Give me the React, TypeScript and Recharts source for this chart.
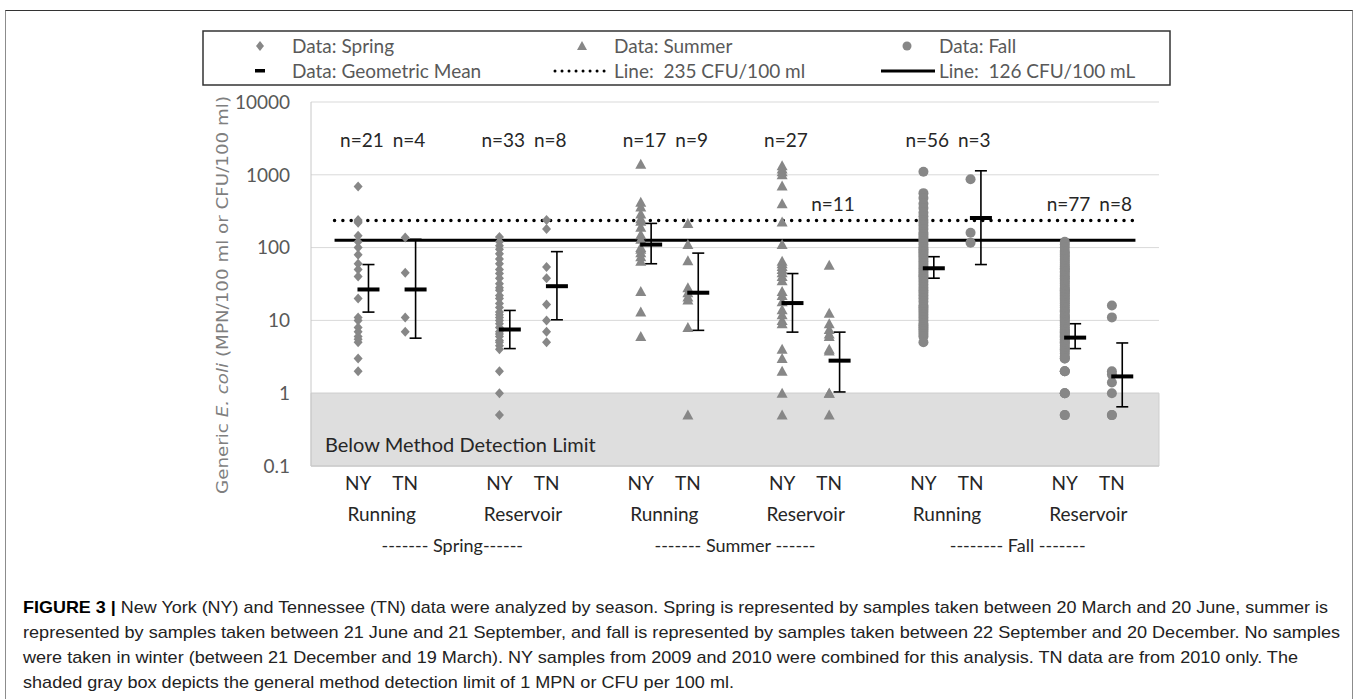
import React from 'react'
import { ScatterChart, Scatter, XAxis, YAxis, CartesianGrid, ReferenceArea, ReferenceLine, ErrorBar } from 'recharts'

const FONT = 'Lato, "Open Sans", sans-serif'
const POINT = '#878787'

// numeric x positions: NY/TN pairs, a blank slot between site groups
const columnX = [1, 2, 4, 5, 7, 8, 10, 11, 13, 14, 16, 17]
const columnLabels = ['NY', 'TN', 'NY', 'TN', 'NY', 'TN', 'NY', 'TN', 'NY', 'TN', 'NY', 'TN']
const siteTicks = [1.5, 4.5, 7.5, 10.5, 13.5, 16.5]
const siteLabels = ['Running', 'Reservoir', 'Running', 'Reservoir', 'Running', 'Reservoir']
const seasonTicks = [3, 9, 15]
const seasonLabels = ['------- Spring------', '------- Summer ------', '-------- Fall -------']
const yTicks = [0.1, 1, 10, 100, 1000, 10000]

// E. coli counts (MPN or CFU / 100 ml)
const springNYRunning = [690, 240, 230, 220, 146, 120, 100, 80, 60, 50, 40, 20, 11, 10, 8, 7, 6, 5.5, 5, 3, 2]
const springTNRunning = [138, 45, 11, 7]
const springNYReservoir = [140, 120, 106, 95, 82, 70, 60, 50, 44, 38, 32, 28, 26, 22, 20, 17, 15, 13, 12, 11, 10, 9, 8, 7, 6.5, 6, 5.3, 5, 4.5, 4, 2, 1, 0.5]
const springTNReservoir = [240, 180, 54, 38, 16.5, 10, 7, 5]
const summerNYRunning = [1400, 420, 360, 290, 250, 230, 190, 150, 130, 100, 95, 85, 75, 65, 25, 13, 6]
const summerTNRunning = [215, 110, 66, 28, 24, 21, 19, 8, 0.5]
const summerNYReservoir = [1330, 1200, 1100, 1000, 700, 400, 225, 110, 65, 60, 55, 50, 45, 40, 35, 25, 22, 18, 14, 12, 10, 9, 4, 3, 2, 1, 0.5]
const summerTNReservoir = [57, 12.5, 9, 7.5, 6.5, 6, 4, 3.8, 1, 1, 0.5]
const fallNYRunning = [1100, 560, 480, 400, 350, 300, 270, 240, 220, 200, 180, 160, 150, 140, 130, 120, 110, 100, 95, 90, 85, 80, 75, 70, 65, 60, 56, 52, 48, 45, 42, 40, 37, 34, 31, 28, 26, 24, 22, 20, 18, 16, 15, 14, 13, 12, 11, 10, 9, 8.5, 8, 7.5, 7, 6.5, 6, 5]
const fallTNRunning = [870, 160, 117]
const fallNYReservoir = [120, 110, 100, 90, 85, 80, 75, 70, 66, 62, 58, 55, 52, 50, 47, 45, 42, 40, 38, 36, 34, 32, 30, 28, 27, 26, 25, 24, 23, 22, 21, 20, 19, 18, 17, 16, 15, 14, 13.5, 13, 12, 11.5, 11, 10.5, 10, 9.5, 9, 8.5, 8, 7.5, 7.2, 7, 6.8, 6.5, 6.2, 6, 5.8, 5.5, 5.2, 5, 4.8, 4.5, 4.2, 4, 3.8, 3.5, 3.2, 3, 3, 2, 2, 2, 1, 1, 1, 0.5, 0.5]
const fallTNReservoir = [16, 11, 2, 1.8, 1.4, 1, 0.5, 0.5]

// geometric means with error bar ends, per column
const meanValues = [26.6, 26.6, 7.5, 29.5, 110, 24, 17.3, 2.8, 52, 255, 5.8, 1.7]
const meanLow = [13, 5.7, 4.1, 10.2, 60, 7.3, 6.9, 1.04, 38, 58.5, 4.1, 0.65]
const meanHigh = [58.5, 130, 13.7, 88, 215, 84, 44, 6.9, 75, 1135, 9, 4.9]

const nCounts = [21, 4, 33, 8, 17, 9, 27, 11, 56, 3, 77, 8]
const nLabelY = [3000, 3000, 3000, 3000, 3000, 3000, 3000, 400, 3000, 3000, 400, 400]

const toPoints = (cols: number[][], xs: number[]) =>
    cols.flatMap((vals, i) => vals.map(y => ({ x: xs[i], y })))

const springData = toPoints([springNYRunning, springTNRunning, springNYReservoir, springTNReservoir], columnX.slice(0, 4))
const summerData = toPoints([summerNYRunning, summerTNRunning, summerNYReservoir, summerTNReservoir], columnX.slice(4, 8))
const fallData = toPoints([fallNYRunning, fallTNRunning, fallNYReservoir, fallTNReservoir], columnX.slice(8, 12))

const meanData = columnX.map((x, i) => ({
    x: x + 0.22,
    y: meanValues[i],
    err: [meanValues[i] - meanLow[i], meanHigh[i] - meanValues[i]],
}))
const nData = columnX.map((x, i) => ({ x: x + 0.08, y: nLabelY[i], n: nCounts[i] }))
// anchors so the label-only axes get a domain of their own
const siteAnchors = siteTicks.map(x => ({ x, y: 1 }))
const seasonAnchors = seasonTicks.map(x => ({ x, y: 1 }))

const captionLines = [
    'New York (NY) and Tennessee (TN) data were analyzed by season. Spring is represented by samples taken between 20 March and 20 June, summer is',
    'represented by samples taken between 21 June and 21 September, and fall is represented by samples taken between 22 September and 20 December. No samples',
    'were taken in winter (between 21 December and 19 March). NY samples from 2009 and 2010 were combined for this analysis. TN data are from 2010 only. The',
    'shaded gray box depicts the general method detection limit of 1 MPN or CFU per 100 ml.',
]
const captionWidths = [1305, 1317, 1275, 711]

const Diamond = (p: any) => (
    <polygon points={`${p.cx},${p.cy - 5} ${p.cx + 4.5},${p.cy} ${p.cx},${p.cy + 5} ${p.cx - 4.5},${p.cy}`} fill={POINT} />
)
const Triangle = (p: any) => (
    <polygon points={`${p.cx},${p.cy - 5.5} ${p.cx + 5.5},${p.cy + 4.5} ${p.cx - 5.5},${p.cy + 4.5}`} fill={POINT} />
)
const Dot = (p: any) => <circle cx={p.cx} cy={p.cy} r={5} fill={POINT} />
const MeanMark = (p: any) => <rect x={p.cx - 11} y={p.cy - 2} width={22} height={4} fill="#000" />
const NLabel = (p: any) => (
    <text x={p.cx} y={p.cy + 7} textAnchor="middle" fontSize={19} fill="#262626" fontFamily={FONT}>
        {`n=${p.payload.n}`}
    </text>
)
const Nothing = () => <g />

const YLabel = (props: any) => {
    const vb = props.viewBox || { x: 230, y: 102, width: 81, height: 364 }
    const cx = vb.x - 7
    const cy = vb.y + vb.height / 2 + 11
    return (
        <text
            transform={`translate(${cx},${cy}) rotate(-90)`}
            textAnchor="middle"
            fontSize={15}
            fill="#7f7f7f"
            fontFamily='"DejaVu Sans", sans-serif'
            textLength={398}
            lengthAdjust="spacingAndGlyphs"
            dy="0.35em"
        >
            Generic <tspan fontStyle="italic">E. coli</tspan> (MPN/100 ml or CFU/100 ml)
        </text>
    )
}

function ChartLegend() {
    const textStyle = { fontSize: 19, fill: '#595959', fontFamily: FONT }
    return (
        <svg width={1357} height={92} style={{ position: 'absolute', left: 0, top: 0 }}>
            <rect x={203} y={31} width={967} height={54} fill="none" stroke="#333" strokeWidth={1.5} />
            <polygon points="260,41 264,46 260,51 256,46" fill={POINT} />
            <text x={292} y={53} {...textStyle}>Data: Spring</text>
            <polygon points="582,41 587,50 577,50" fill={POINT} />
            <text x={614} y={53} {...textStyle}>Data: Summer</text>
            <circle cx={907} cy={46} r={4.5} fill={POINT} />
            <text x={939} y={53} {...textStyle}>Data: Fall</text>
            <rect x={255} y={69} width={10} height={3.5} fill="#000" />
            <text x={292} y={78} {...textStyle}>Data: Geometric Mean</text>
            <line x1={555} y1={71} x2={606} y2={71} stroke="#000" strokeWidth={3} strokeDasharray="0.01 7" strokeLinecap="round" />
            <text x={614} y={78} {...textStyle} style={{ whiteSpace: 'pre' }}>Line:  235 CFU/100 ml</text>
            <line x1={881} y1={71} x2={935} y2={71} stroke="#000" strokeWidth={3} />
            <text x={939} y={78} {...textStyle} style={{ whiteSpace: 'pre' }}>Line:  126 CFU/100 mL</text>
        </svg>
    )
}

function Caption() {
    return (
        <svg width={1357} height={699} style={{ position: 'absolute', left: 0, top: 0, pointerEvents: 'none' }}>
            {captionLines.map((line, i) => (
                <text
                    key={i}
                    x={23}
                    y={613 + i * 25}
                    fontSize={17}
                    fill="#222"
                    fontFamily='"Liberation Sans", Arial, sans-serif'
                    textLength={captionWidths[i]}
                    lengthAdjust="spacingAndGlyphs"
                    style={{ whiteSpace: 'pre' }}
                >
                    {i === 0 && <tspan fontWeight="bold" fill="#000">FIGURE 3 | </tspan>}
                    {line}
                </text>
            ))}
        </svg>
    )
}

export default function App() {
    const axisTick = { fill: '#262626', fontSize: 19, fontFamily: FONT }
    return (
        <div style={{ position: 'absolute', left: 0, top: 0, width: 1357, height: 699, background: '#fff', overflow: 'hidden' }}>
            <div style={{ position: 'absolute', left: 5, top: 10, width: 1346, height: 700, borderTop: '1px solid #333', borderLeft: '1px solid #8c8c8c', borderRight: '1px solid #8c8c8c' }} />
            <div style={{ position: 'absolute', left: 0, top: 0 }}>
                <ScatterChart width={1357} height={561} margin={{ top: 102, right: 198, bottom: 0, left: 230 }}>
                    <CartesianGrid xAxisId="a_col" vertical={false} stroke="#d9d9d9" />
                    <XAxis
                        xAxisId="a_col"
                        type="number"
                        dataKey="x"
                        domain={[0, 18]}
                        allowDataOverflow
                        ticks={columnX}
                        interval={0}
                        tickFormatter={(v: number) => columnLabels[columnX.indexOf(v)]}
                        axisLine={{ stroke: '#c8c8c8' }}
                        tickLine={false}
                        tick={axisTick}
                        tickMargin={5}
                        height={33}
                    />
                    <XAxis
                        xAxisId="b_site"
                        type="number"
                        dataKey="x"
                        domain={[0, 18]}
                        allowDataOverflow
                        ticks={siteTicks}
                        interval={0}
                        tickFormatter={(v: number) => siteLabels[siteTicks.indexOf(v)]}
                        axisLine={false}
                        tickLine={false}
                        tick={axisTick}
                        tickMargin={3}
                        height={31}
                    />
                    <XAxis
                        xAxisId="c_season"
                        type="number"
                        dataKey="x"
                        domain={[0, 18]}
                        allowDataOverflow
                        ticks={seasonTicks}
                        interval={0}
                        tickFormatter={(v: number) => seasonLabels[seasonTicks.indexOf(v)]}
                        axisLine={false}
                        tickLine={false}
                        tick={{ ...axisTick, fontSize: 18 }}
                        tickMargin={3}
                        height={31}
                    />
                    <YAxis
                        type="number"
                        dataKey="y"
                        scale="log"
                        domain={[0.1, 10000]}
                        allowDataOverflow
                        ticks={yTicks}
                        interval={0}
                        tickFormatter={(v: number) => String(v)}
                        width={81}
                        axisLine={{ stroke: '#c8c8c8' }}
                        tickLine={false}
                        tick={{ fill: '#595959', fontSize: 19, fontFamily: FONT }}
                        tickMargin={15}
                        label={{ content: YLabel }}
                    />
                    <ReferenceArea
                        xAxisId="a_col"
                        y1={0.1}
                        y2={1}
                        fill="#dedede"
                        fillOpacity={1}
                        stroke="#cfcfcf"
                        label={{ value: 'Below Method Detection Limit', position: 'insideBottomLeft', offset: 14, fill: '#262626', fontSize: 20, fontFamily: FONT }}
                    />
                    <Scatter xAxisId="b_site" data={siteAnchors} shape={Nothing} legendType="none" isAnimationActive={false} />
                    <Scatter xAxisId="c_season" data={seasonAnchors} shape={Nothing} legendType="none" isAnimationActive={false} />
                    <Scatter xAxisId="a_col" data={springData} shape={Diamond} isAnimationActive={false} />
                    <Scatter xAxisId="a_col" data={summerData} shape={Triangle} isAnimationActive={false} />
                    <Scatter xAxisId="a_col" data={fallData} shape={Dot} isAnimationActive={false} />
                    <ReferenceLine
                        xAxisId="a_col"
                        segment={[{ x: 0.5, y: 235 }, { x: 17.5, y: 235 }]}
                        stroke="#000"
                        strokeWidth={3.5}
                        strokeDasharray="0.01 8.3"
                        strokeLinecap="round"
                    />
                    <ReferenceLine
                        xAxisId="a_col"
                        segment={[{ x: 0.5, y: 126 }, { x: 17.5, y: 126 }]}
                        stroke="#000"
                        strokeWidth={3}
                    />
                    <Scatter xAxisId="a_col" data={meanData} shape={MeanMark} isAnimationActive={false}>
                        <ErrorBar dataKey="err" direction="y" width={6} stroke="#000" strokeWidth={1.6} isAnimationActive={false} />
                    </Scatter>
                    <Scatter xAxisId="a_col" data={nData} shape={NLabel} isAnimationActive={false} />
                </ScatterChart>
            </div>
            <ChartLegend />
            <Caption />
        </div>
    )
}
